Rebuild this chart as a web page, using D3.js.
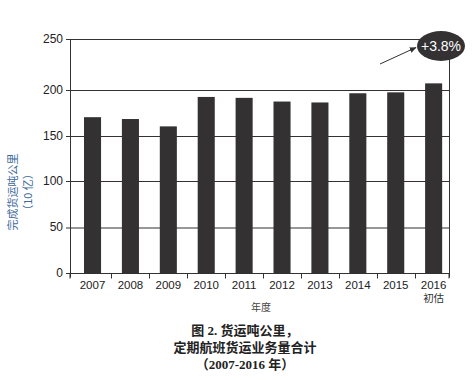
<!DOCTYPE html>
<html><head><meta charset="utf-8">
<script src="https://cdn.jsdelivr.net/npm/d3@7/dist/d3.min.js"></script>
<style>body{margin:0;background:#fff}</style>
</head><body>
<svg id="c" width="473" height="380"></svg>
<script>
const years = ["2007","2008","2009","2010","2011","2012","2013","2014","2015","2016"];
const values = [171, 169, 161, 193, 192, 188, 187, 197, 198, 207];
const yTicks = [0, 50, 100, 150, 200, 250];
const yTitle = ["完成货运吨公里", "（10 亿）"];
const xTitle = "年度";
const lastSub = "初估";
const annotation = "+3.8%";
const caption = ["图 2. 货运吨公里，", "定期航班货运业务量合计", "（2007-2016 年）"];

const svg = d3.select("#c");
const L = 70, R = 449, T = 39, B = 273.5;
const step = 37.9;
const x = d3.scaleBand().domain(years).range([84 - 0.3 * step, 84 - 0.3 * step + step * (10 - 0.55 + 0.6)])
  .paddingInner(0.55).paddingOuter(0.3);
const y = d3.scaleLinear().domain(yTicks).range([273.5, 228, 181.5, 136.5, 90.5, 39.5]);
const dark = "#333132";
const font = "Liberation Sans, Arial, sans-serif";

// gridlines
svg.append("g").selectAll("line").data(yTicks).join("line")
  .attr("x1", L - 4).attr("x2", R).attr("y1", d => y(d)).attr("y2", d => y(d))
  .attr("stroke", dark).attr("stroke-width", 1);
// y labels
svg.append("g").selectAll("text").data(yTicks).join("text")
  .attr("x", 63).attr("y", d => y(d) + 3).attr("text-anchor", "end")
  .attr("font-family", font).attr("font-size", 12).attr("fill", "#222")
  .text(d => d);
// bars
svg.append("g").selectAll("rect").data(values).join("rect")
  .attr("x", (d, i) => x(years[i])).attr("width", x.bandwidth())
  .attr("y", d => y(d)).attr("height", d => B - y(d)).attr("fill", dark);
// axes lines
svg.append("line").attr("x1", L + 0.5).attr("x2", L + 0.5).attr("y1", T).attr("y2", B + 4)
  .attr("stroke", dark);
svg.append("line").attr("x1", R + 0.5).attr("x2", R + 0.5).attr("y1", T).attr("y2", B + 4)
  .attr("stroke", dark);
// x ticks at boundaries between bars
const gap = (x.step() - x.bandwidth()) / 2;
const bounds = [L].concat(years.slice(1).map(d => Math.round(x(d) - gap) + 0.5)).concat([R]);
svg.append("g").selectAll("line").data(bounds).join("line")
  .attr("x1", d => d).attr("x2", d => d).attr("y1", B).attr("y2", B + 5)
  .attr("stroke", dark);
// x labels
svg.append("g").selectAll("text").data(years).join("text")
  .attr("x", d => x(d) + x.bandwidth() / 2).attr("y", 289).attr("text-anchor", "middle")
  .attr("font-family", font).attr("font-size", 11.5).attr("fill", "#222").text(d => d);
svg.append("text").attr("x", x(years[years.length - 1]) + x.bandwidth() / 2).attr("y", 302)
  .attr("text-anchor", "middle").attr("font-family", "Noto Sans CJK SC").attr("font-size", 10.5)
  .attr("fill", "#333").text(lastSub);
svg.append("text").attr("x", 261).attr("y", 311).attr("text-anchor", "middle")
  .attr("font-family", "Noto Sans CJK SC").attr("font-size", 10).attr("fill", "#444").text(xTitle);
// y title
const yt = svg.append("text").attr("transform", "translate(13,192) rotate(-90)")
  .attr("text-anchor", "middle").attr("font-family", "Noto Sans CJK SC").attr("font-size", 11)
  .attr("fill", "#3d6a9c");
yt.selectAll("tspan").data(yTitle).join("tspan").attr("x", 0).attr("dy", (d, i) => i ? 15 : 4).text(d => d);
// annotation
svg.append("defs").append("marker").attr("id", "ah").attr("viewBox", "0 0 10 10")
  .attr("refX", 9).attr("refY", 5).attr("markerWidth", 7).attr("markerHeight", 7)
  .attr("orient", "auto").append("path").attr("d", "M0,1L10,5L0,9z").attr("fill", dark);
svg.append("line").attr("x1", 380).attr("y1", 64).attr("x2", 416).attr("y2", 47.5)
  .attr("stroke", dark).attr("stroke-width", 1).attr("marker-end", "url(#ah)");
svg.append("ellipse").attr("cx", 441).attr("cy", 46).attr("rx", 24).attr("ry", 15).attr("fill", dark);
svg.append("text").attr("x", 441).attr("y", 51).attr("text-anchor", "middle")
  .attr("font-family", font).attr("font-size", 14).attr("fill", "#fff").text(annotation);
// caption
svg.append("g").selectAll("text").data(caption).join("text")
  .attr("x", 245).attr("y", (d, i) => 335 + i * 17).attr("text-anchor", "middle")
  .attr("font-family", "Liberation Serif, Noto Sans CJK SC").attr("font-weight", "bold")
  .attr("font-size", 13).attr("fill", "#222").text(d => d);
</script>
</body></html>
